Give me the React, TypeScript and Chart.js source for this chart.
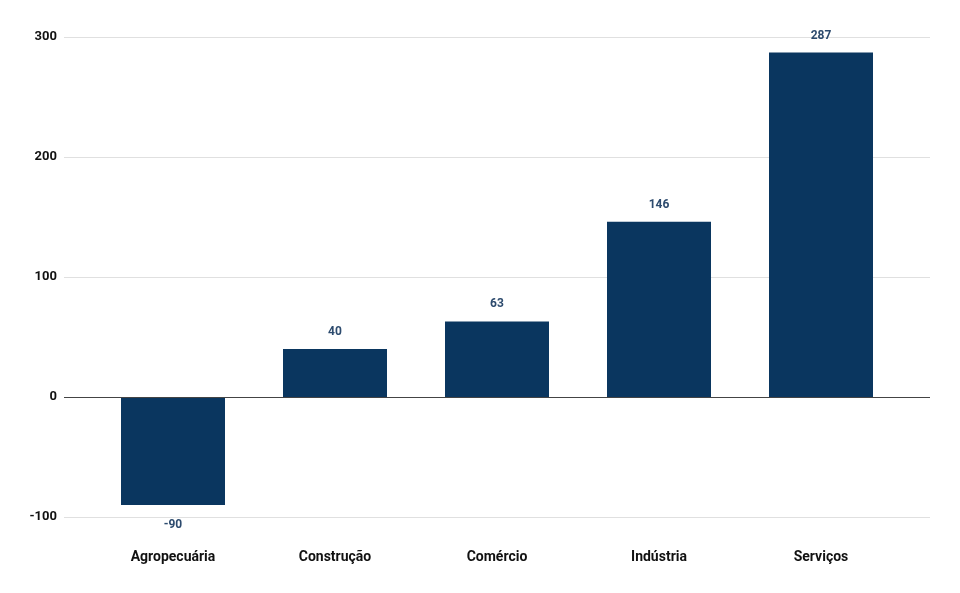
import React, { useEffect, useRef } from "react";
import { Chart, registerables } from "chart.js";

Chart.register(...registerables);

const categories = ["Agropecuária", "Construção", "Comércio", "Indústria", "Serviços"];
const values = [-90, 40, 63, 146, 287];
const yTicks = [-100, 0, 100, 200, 300];

const FONT = "Roboto, 'Liberation Sans', Arial, sans-serif";

const gridPlugin = {
  id: "customGrid",
  beforeDatasetsDraw(chart: any) {
    const { ctx, scales } = chart;
    const y = scales.y;
    ctx.save();
    ctx.strokeStyle = "#e0e0e0";
    ctx.lineWidth = 1;
    yTicks.forEach((t) => {
      if (t === 0) return;
      const py = Math.round(y.getPixelForValue(t)) + 0.5;
      ctx.beginPath();
      ctx.moveTo(64, py);
      ctx.lineTo(930, py);
      ctx.stroke();
    });
    ctx.restore();
  },
  afterDatasetsDraw(chart: any) {
    const { ctx, scales } = chart;
    const y = scales.y;
    ctx.save();
    ctx.strokeStyle = "#444444";
    ctx.lineWidth = 1;
    const py = Math.round(y.getPixelForValue(0)) + 0.5;
    ctx.beginPath();
    ctx.moveTo(64, py);
    ctx.lineTo(930, py);
    ctx.stroke();

    const meta = chart.getDatasetMeta(0);
    ctx.fillStyle = "#2d4b6e";
    ctx.font = `bold 12px ${FONT}`;
    ctx.textAlign = "center";
    ctx.textBaseline = "middle";
    meta.data.forEach((bar: any, i: number) => {
      const v = values[i];
      const ly = v >= 0 ? bar.y - 17 : bar.y + 19.5;
      ctx.fillText(String(v), bar.x, ly);
    });
    ctx.restore();
  },
};

export default function App() {
  const ref = useRef<HTMLCanvasElement>(null);
  useEffect(() => {
    if (!ref.current) return;
    const chart = new Chart(ref.current, {
      type: "bar",
      data: {
        labels: categories,
        datasets: [
          {
            data: values,
            backgroundColor: "#0a365f",
            borderWidth: 0,
            categoryPercentage: 1,
            barPercentage: 104 / 162,
          },
        ],
      },
      options: {
        animation: false,
        responsive: false,
        maintainAspectRatio: false,
        layout: { padding: { left: 20, right: 58, top: 37, bottom: 29 } },
        plugins: { legend: { display: false }, tooltip: { enabled: false } },
        scales: {
          x: {
            afterFit(scale: any) {
              scale.height = 47;
            },
            grid: { display: false, drawTicks: false },
            border: { display: false },
            ticks: {
              color: "#111111",
              font: { family: FONT, size: 14, weight: "bold" },
              padding: 32,
              maxRotation: 0,
            },
          },
          y: {
            min: -100,
            max: 300,
            afterFit(scale: any) {
              scale.width = 72;
              scale.paddingTop = 0;
              scale.paddingBottom = 0;
            },
            afterBuildTicks(scale: any) {
              scale.ticks = yTicks.map((v) => ({ value: v }));
            },
            grid: { display: false, drawTicks: false },
            border: { display: false },
            ticks: {
              color: "#111111",
              font: { family: FONT, size: 13, weight: "bold" },
              padding: 35,
            },
          },
        },
      },
      plugins: [gridPlugin],
    });
    return () => chart.destroy();
  }, []);
  return (
    <div style={{ position: "fixed", left: 0, top: 0, width: 960, height: 593, background: "#fff" }}>
      <canvas ref={ref} width={960} height={593} style={{ width: 960, height: 593 }} />
    </div>
  );
}
